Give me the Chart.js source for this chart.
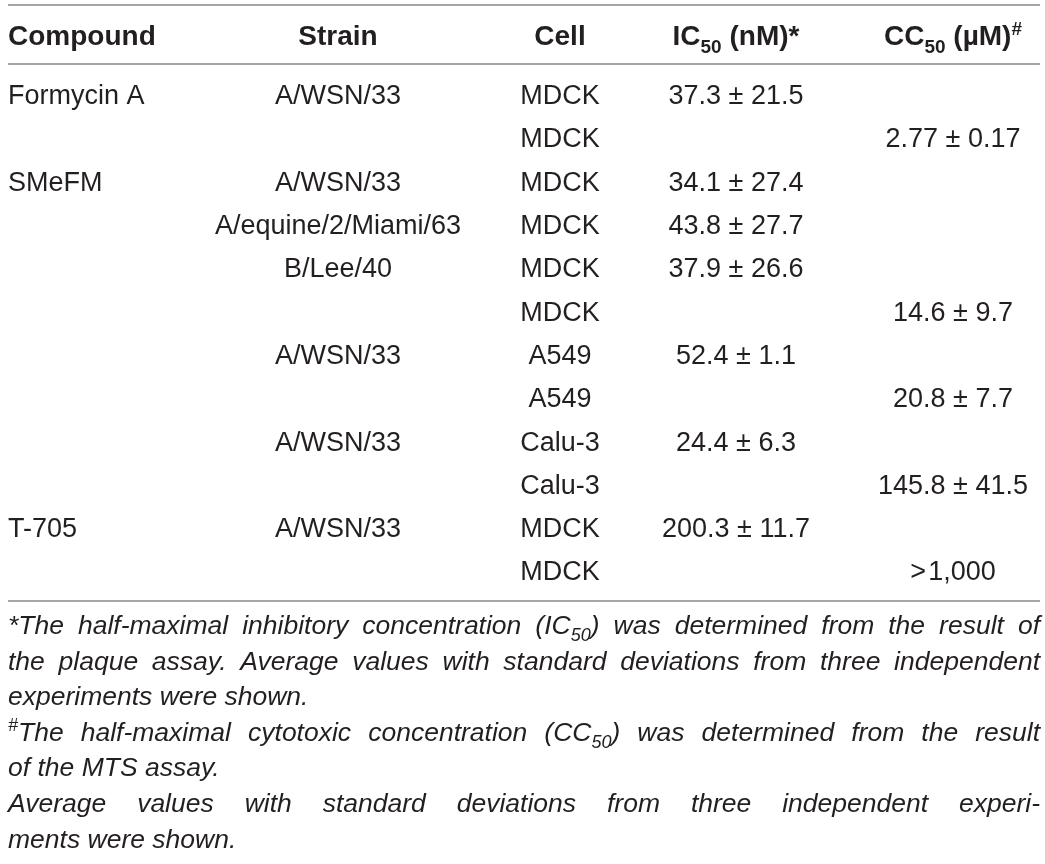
<!DOCTYPE html>
<html>
<head>
<meta charset="utf-8">
<script src="https://cdn.jsdelivr.net/npm/chart.js@4.4.1/dist/chart.umd.min.js"></script>
<style>
  html, body { margin: 0; padding: 0; background: #fff; }
  #wrap { width: 1045px; height: 864px; position: relative; }
</style>
</head>
<body>
<div id="wrap"><canvas id="tableChart"></canvas></div>
<script>
// Table content (one entry per body row)
const headers = ['Compound', 'Strain', 'Cell', 'IC~50~ (nM)*', 'CC~50~ (\u00B5M)^#^'];
const compounds = ['Formycin A', '', 'SMeFM', '', '', '', '', '', '', '', 'T-705', ''];
const strains = ['A/WSN/33', '', 'A/WSN/33', 'A/equine/2/Miami/63', 'B/Lee/40', '', 'A/WSN/33', '', 'A/WSN/33', '', 'A/WSN/33', ''];
const cells = ['MDCK', 'MDCK', 'MDCK', 'MDCK', 'MDCK', 'MDCK', 'A549', 'A549', 'Calu-3', 'Calu-3', 'MDCK', 'MDCK'];
const ic50Mean = [37.3, null, 34.1, 43.8, 37.9, null, 52.4, null, 24.4, null, 200.3, null];
const ic50Sd = [21.5, null, 27.4, 27.7, 26.6, null, 1.1, null, 6.3, null, 11.7, null];
const cc50Mean = [null, 2.77, null, null, null, 14.6, null, 20.8, null, 145.8, null, null];
const cc50Sd = [null, 0.17, null, null, null, 9.7, null, 7.7, null, 41.5, null, null];
const cc50LowerBound = [null, null, null, null, null, null, null, null, null, null, null, 1000];

const footnotes = [
  { text: '*The half-maximal inhibitory concentration (IC~50~) was determined from the result of', justify: true },
  { text: 'the plaque assay. Average values with standard deviations from three independent', justify: true },
  { text: 'experiments were shown.', justify: false },
  { text: '^#^The half-maximal cytotoxic concentration (CC~50~) was determined from the result', justify: true },
  { text: 'of the MTS assay.', justify: false },
  { text: 'Average values with standard deviations from three independent experi-', justify: true },
  { text: 'ments were shown.', justify: false }
];

// layout
const FONT = "'Liberation Sans', Arial, Helvetica, sans-serif";
const INK = '#231f20';
const RULE = '#a6a6a6';
const colX = [8, 338, 560, 736, 953];
const colAlign = ['left', 'center', 'center', 'center', 'center'];
const headerRow = -0.374;
const ruleRows = [-1.07, 0.3, 12.7];
const tableLeft = 8, tableRight = 1040;
const bodySize = 27, headSize = 28, noteSize = 26.5;

function fmtPM(m, s) { return m == null ? '' : m + ' \u00B1 ' + s; }
const icText = ic50Mean.map((m, i) => fmtPM(m, ic50Sd[i]));
const ccText = cc50Mean.map((m, i) => cc50LowerBound[i] != null
  ? '>\u200A' + cc50LowerBound[i].toLocaleString('en-US')
  : fmtPM(m, cc50Sd[i]));

const columns = [compounds, strains, cells, icText, ccText];

function parseRuns(str) {
  return str.split(/(~[^~]+~|\^[^^]+\^)/).filter(s => s.length).map(s => {
    if (s[0] === '~') return { t: s.slice(1, -1), sub: true };
    if (s[0] === '^') return { t: s.slice(1, -1), sup: true };
    return { t: s };
  });
}
function fontFor(r, size, style) {
  const s = (r.sub || r.sup) ? size * 0.68 : size;
  return style + ' ' + s.toFixed(1) + 'px ' + FONT;
}
function runsWidth(ctx, runs, size, style) {
  let w = 0;
  runs.forEach(r => { ctx.font = fontFor(r, size, style); w += ctx.measureText(r.t).width; });
  return w;
}
function drawRuns(ctx, runs, x, y, size, style, align) {
  const total = runsWidth(ctx, runs, size, style);
  let cx = align === 'center' ? x - total / 2 : align === 'right' ? x - total : x;
  runs.forEach(r => {
    ctx.font = fontFor(r, size, style);
    const dy = r.sub ? size * 0.27 : r.sup ? -size * 0.36 : 0;
    ctx.fillText(r.t, cx, y + dy);
    cx += ctx.measureText(r.t).width;
  });
}
function drawLine(ctx, text, x0, x1, y, size, justify) {
  const words = text.split(' ').map(parseRuns);
  ctx.font = 'italic ' + size + 'px ' + FONT;
  const space = ctx.measureText(' ').width;
  const ww = words.map(w => runsWidth(ctx, w, size, 'italic'));
  const sum = ww.reduce((a, b) => a + b, 0);
  const natural = sum + space * (words.length - 1);
  const target = x1 - x0;
  let gap = space, sx = 1;
  if (natural > target) sx = target / natural;
  else if (justify && words.length > 1) gap = (target - sum) / (words.length - 1);
  ctx.save();
  ctx.translate(x0, y);
  ctx.scale(sx, 1);
  let cx = 0;
  words.forEach((w, i) => {
    drawRuns(ctx, w, cx, 0, size, 'italic', 'left');
    cx += ww[i] + gap;
  });
  ctx.restore();
}

const datasets = columns.map((col, c) => ({
  label: 'col' + c,
  align: colAlign[c],
  data: col.map((t, i) => ({ x: colX[c], y: i + 1, text: t })).filter(d => d.text !== '')
}));
datasets.push({
  label: 'header',
  header: true,
  data: headers.map((h, c) => ({ x: colX[c], y: headerRow, text: h, align: colAlign[c] }))
});

const tableText = {
  id: 'tableText',
  afterDatasetsDraw(chart) {
    const ctx = chart.ctx;
    const xs = chart.scales.x, ys = chart.scales.y;
    ctx.save();
    ctx.fillStyle = INK;
    ctx.textBaseline = 'alphabetic';

    // rules
    ctx.strokeStyle = RULE;
    ctx.lineWidth = 2;
    ruleRows.forEach(r => {
      const py = Math.round(ys.getPixelForValue(r));
      ctx.beginPath();
      ctx.moveTo(xs.getPixelForValue(tableLeft), py);
      ctx.lineTo(xs.getPixelForValue(tableRight), py);
      ctx.stroke();
    });

    // cells
    chart.data.datasets.forEach((ds, di) => {
      const meta = chart.getDatasetMeta(di);
      meta.data.forEach((el, i) => {
        const d = ds.data[i];
        if (ds.header) {
          drawRuns(ctx, parseRuns(d.text), el.x, el.y + headSize * 0.36, headSize, 'bold', d.align);
        } else {
          drawRuns(ctx, parseRuns(d.text), el.x, el.y + bodySize * 0.36, bodySize, 'normal', ds.align);
        }
      });
    });

    // footnotes
    const base = ys.getPixelForValue(ruleRows[2]) + 33;
    footnotes.forEach((f, k) => {
      drawLine(ctx, f.text, xs.getPixelForValue(tableLeft), xs.getPixelForValue(tableRight),
        base + k * 35.6, noteSize, f.justify);
    });
    ctx.restore();
  }
};

new Chart(document.getElementById('tableChart'), {
  type: 'scatter',
  data: { datasets: datasets },
  options: {
    responsive: true,
    maintainAspectRatio: false,
    animation: false,
    layout: { padding: { top: 7.9, bottom: 250, left: 0, right: 0 } },
    elements: { point: { radius: 0, hoverRadius: 0 } },
    plugins: { legend: { display: false }, tooltip: { enabled: false } },
    events: [],
    scales: {
      x: { type: 'linear', display: false, min: 0, max: 1045 },
      y: { type: 'linear', display: false, min: -1, max: 13, reverse: true }
    }
  },
  plugins: [tableText]
});
</script>
</body>
</html>
